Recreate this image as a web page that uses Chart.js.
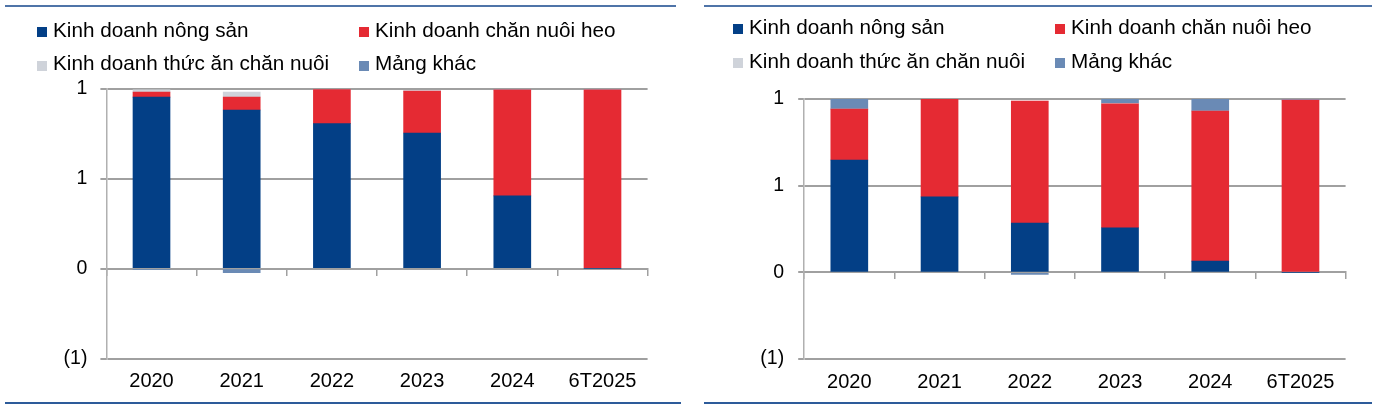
<!DOCTYPE html>
<html lang="vi">
<head>
<meta charset="utf-8">
<title>Cơ cấu theo mảng kinh doanh</title>
<script src="https://cdn.jsdelivr.net/npm/chart.js@4.4.1/dist/chart.umd.min.js"></script>
<style>
  html, body { margin: 0; padding: 0; background: #fff; }
  body { width: 1378px; height: 406px; position: relative; overflow: hidden;
         font-family: "Liberation Sans", Arial, sans-serif; }
  .panel { position: absolute; top: 0; height: 406px; }
  .rule { position: absolute; height: 2px; }
  .lg-box { position: absolute; width: 10px; height: 10px; }
  .lg-text { position: absolute; font-size: 20.7px; line-height: 24px; color: #000; white-space: nowrap; }
</style>
</head>
<body>
<div class="rule" style="left:5px;width:671px;top:5px;background:#4f74a8"></div>
<div class="rule" style="left:704px;width:668px;top:5px;background:#4f74a8"></div>
<div class="rule" style="left:5px;width:676px;top:402px;background:#2d5b9a"></div>
<div class="rule" style="left:704px;width:668px;top:402px;background:#2d5b9a"></div>

<div class="panel" style="left:0;width:690px"><canvas id="leftChart"></canvas></div>
<div class="panel" style="left:690px;width:688px"><canvas id="rightChart"></canvas></div>

<script>
// categories and series
const categories = ['2020', '2021', '2022', '2023', '2024', '6T2025'];
const seriesNames = ['Kinh doanh nông sản', 'Kinh doanh chăn nuôi heo', 'Kinh doanh thức ăn chăn nuôi', 'Mảng khác'];
const seriesColors = ['#033f86', '#e52a33', '#cfd3da', '#6a8ab5'];

// left chart (share of total)
const leftNongSan = [0.955, 0.883, 0.807, 0.755, 0.405, 0];
const leftHeo     = [0.028, 0.072, 0.190, 0.234, 0.590, 0.996];
const leftThucAn  = [0.013, 0.028, 0, 0, 0, 0];
const leftKhac    = [-0.006, -0.022, 0.003, 0, 0.005, 0.004];

// right chart (share of total)
const rightNongSan = [0.648, 0.435, 0.284, 0.257, 0.065, 0];
const rightHeo     = [0.294, 0.565, 0.704, 0.715, 0.866, 0.994];
const rightThucAn  = [0, 0, 0, 0.003, 0, 0];
const rightKhac    = [0.058, 0, -0.012, 0.025, 0.069, 0.006];

// y axis range / step
const yMin = -0.5, yMax = 1, yStep = 0.5;

const fontFamily = '"Liberation Sans", Arial, sans-serif';

// excel style number format: #,##0;(#,##0)
function fmtTick(v) {
    const r = Math.round(Math.abs(v));
    return v < 0 ? '(' + r + ')' : String(r);
}

// legend as html, two columns
function buildLegend(panelLeft, textX, baseY) {
    seriesNames.forEach((name, i) => {
        const col = i % 2, row = Math.floor(i / 2);
        const box = document.createElement('div');
        box.className = 'lg-box';
        box.style.background = seriesColors[i];
        box.style.left = (panelLeft + textX[col] - 16) + 'px';
        box.style.top = (baseY[row] - 10) + 'px';
        document.body.appendChild(box);

        const txt = document.createElement('div');
        txt.className = 'lg-text';
        txt.textContent = name;
        txt.style.left = (panelLeft + textX[col]) + 'px';
        txt.style.top = (baseY[row] - 19.2) + 'px';
        document.body.appendChild(txt);
    });
}

function buildChart(canvasId, values, area, tickPad) {
    const datasets = seriesNames.map((name, i) => ({
        label: name,
        data: values[i],
        backgroundColor: seriesColors[i],
        borderWidth: 0,
        barThickness: 37
    }));

    return new Chart(document.getElementById(canvasId).getContext('2d'), {
        type: 'bar',
        data: { labels: categories, datasets: datasets },
        options: {
            responsive: true,
            maintainAspectRatio: false,
            animation: false,
            layout: { padding: { top: area.top, right: area.w - area.right, left: 0, bottom: 0 } },
            plugins: { legend: { display: false }, tooltip: { enabled: false } },
            scales: {
                x: {
                    stacked: true,
                    grid: { display: false, drawTicks: false },
                    border: { display: false },
                    ticks: { color: '#000', font: { family: fontFamily, size: 20 }, padding: 11, maxRotation: 0, autoSkip: false },
                    afterFit: s => { s.height = area.h - area.bottom; }
                },
                // axis line at zero with tick marks between categories
                x0: {
                    axis: 'x',
                    type: 'category',
                    position: { y: 0 },
                    offset: true,
                    grid: { drawOnChartArea: false, offset: true, tickLength: 6, color: '#a0a0a0', lineWidth: 1.5 },
                    border: { color: '#a0a0a0', width: 2 },
                    ticks: { display: false }
                },
                y: {
                    stacked: true,
                    min: yMin,
                    max: yMax,
                    ticks: { stepSize: yStep, callback: fmtTick, padding: tickPad, color: '#000', font: { family: fontFamily, size: 19.5 } },
                    grid: { color: '#a0a0a0', lineWidth: 2, tickLength: 6 },
                    border: { color: '#b0b0b0', width: 1.5 },
                    afterFit: s => { s.width = area.left; }
                }
            }
        }
    });
}

buildLegend(0, [53, 375], [36.7, 70.5]);
buildLegend(690, [59, 381], [34.3, 68.3]);

buildChart('leftChart', [leftNongSan, leftHeo, leftThucAn, leftKhac],
    { w: 690, h: 406, left: 106.4, right: 647.6, top: 89, bottom: 358.5 }, 13);
buildChart('rightChart', [rightNongSan, rightHeo, rightThucAn, rightKhac],
    { w: 688, h: 406, left: 114.2, right: 655.6, top: 99, bottom: 359 }, 14);
</script>
</body>
</html>
